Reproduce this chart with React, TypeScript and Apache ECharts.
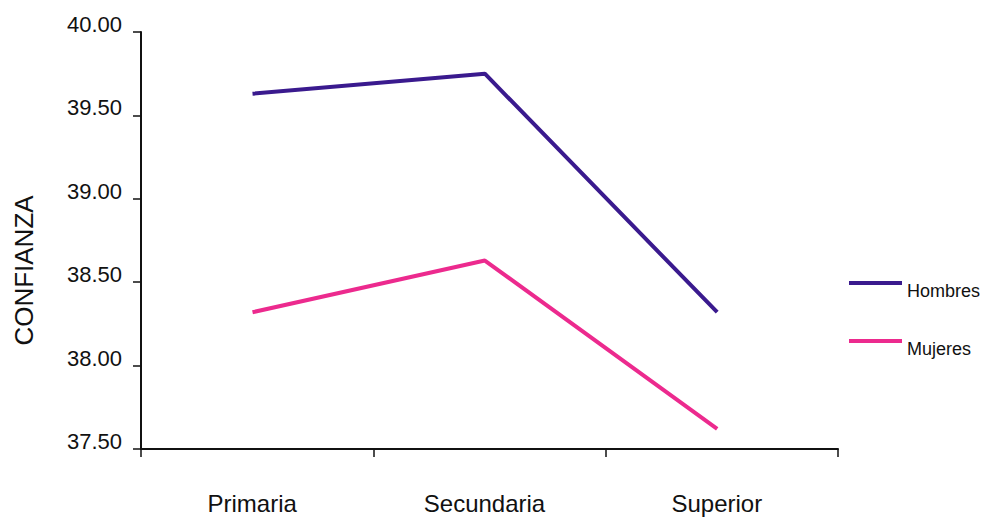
import React, { useEffect, useRef } from "react";
import * as echarts from "echarts";

const categories = ["Primaria", "Secundaria", "Superior"];
const hombres = [39.63, 39.75, 38.32];
const mujeres = [38.32, 38.63, 37.62];
const yTicks = { min: 37.5, max: 40, interval: 0.5 };

export default function App() {
  const ref = useRef<HTMLDivElement>(null);
  useEffect(() => {
    const chart = echarts.init(ref.current!, null, { renderer: "svg" });
    const font = "Liberation Sans, Arial, sans-serif";
    const toPts = (vals: number[]) => categories.map((_, i) => [i, vals[i]]);
    chart.setOption({
      animation: false,
      backgroundColor: "#ffffff",
      grid: { left: 141, right: 156, top: 32, bottom: 68 },
      legend: {
        orient: "vertical",
        left: 849,
        top: 266,
        padding: 0,
        itemWidth: 53,
        itemHeight: 4,
        itemGap: 24,
        icon: "rect",
        formatter: "{t|{name}}",
        textStyle: {
          fontFamily: font,
          fontSize: 18,
          color: "#111",
          rich: {
            t: {
              fontFamily: font,
              fontSize: 18,
              lineHeight: 18,
              color: "#111",
              padding: [16, 0, 0, 0],
            },
          },
        },
        data: ["Hombres", "Mujeres"],
      },
      xAxis: [
        {
          type: "category",
          data: categories,
          boundaryGap: true,
          axisLine: { onZero: false, lineStyle: { color: "#111", width: 2 } },
          axisTick: { show: true, length: 8, lineStyle: { color: "#111", width: 1.5 } },
          axisLabel: {
            fontFamily: font,
            fontSize: 24,
            color: "#111",
            margin: 42,
            padding: [0, 10, 0, 0],
          },
        },
        {
          type: "value",
          show: false,
          min: -0.48,
          max: 2.52,
          splitLine: { show: false },
        },
      ],
      yAxis: {
        type: "value",
        min: yTicks.min,
        max: yTicks.max,
        interval: yTicks.interval,
        name: "CONFIANZA",
        nameLocation: "middle",
        nameGap: 104,
        nameRotate: 90,
        nameTextStyle: {
          fontFamily: font,
          fontSize: 26,
          color: "#111",
          padding: [0, 60, 0, 0],
        },
        splitLine: { show: false },
        axisLine: { show: true, onZero: false, lineStyle: { color: "#111", width: 2 } },
        axisTick: { show: true, length: 8, lineStyle: { color: "#111", width: 1.5 } },
        axisLabel: {
          fontFamily: font,
          fontSize: 22,
          color: "#111",
          margin: 19,
          verticalAlign: "bottom",
          lineHeight: 15,
          formatter: (v: number) => v.toFixed(2),
        },
      },
      series: [
        {
          name: "Hombres",
          type: "line",
          xAxisIndex: 1,
          data: toPts(hombres),
          symbol: "none",
          lineStyle: { color: "#3a1a8e", width: 4 },
          itemStyle: { color: "#3a1a8e" },
        },
        {
          name: "Mujeres",
          type: "line",
          xAxisIndex: 1,
          data: toPts(mujeres),
          symbol: "none",
          lineStyle: { color: "#ec2a8e", width: 4 },
          itemStyle: { color: "#ec2a8e" },
        },
      ],
    });
    return () => chart.dispose();
  }, []);
  return (
    <div
      ref={ref}
      style={{ position: "absolute", left: 0, top: 0, width: 994, height: 517 }}
    />
  );
}
